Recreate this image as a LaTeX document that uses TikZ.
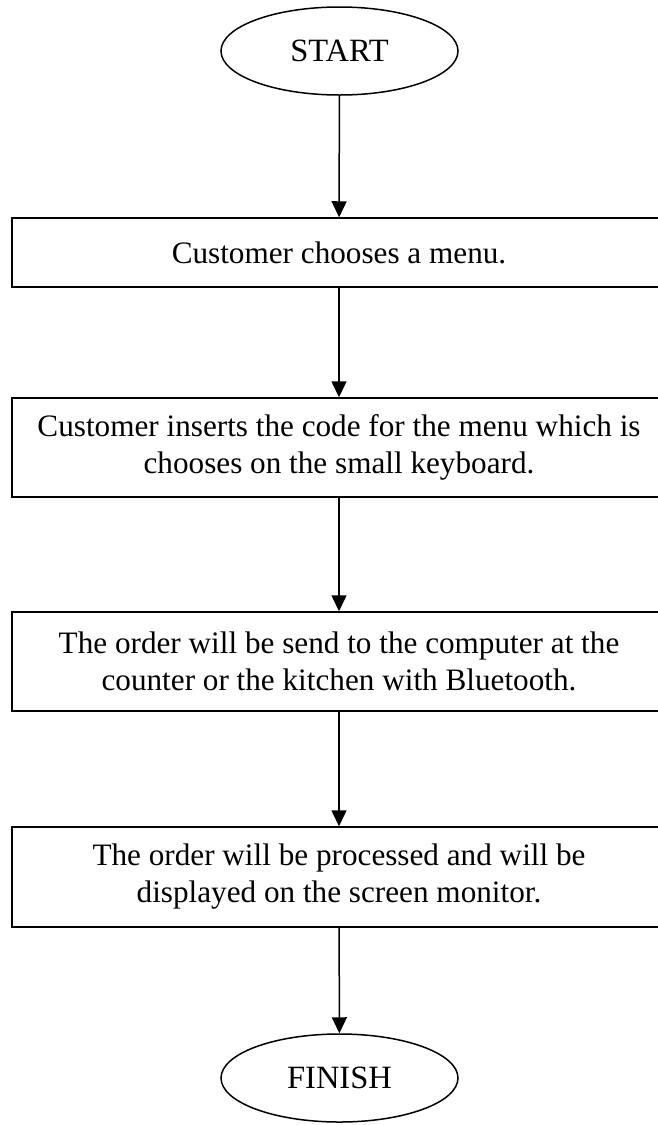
\documentclass[tikz,border=0pt]{standalone}
\usepackage{fontspec}
\setmainfont{Liberation Serif}
\usetikzlibrary{arrows.meta,shapes.geometric}
\begin{document}
\begin{tikzpicture}[x=1pt,y=-1pt,
  line width=1.5pt,
  terminal/.style={draw,ellipse,minimum width=237pt,minimum height=88pt,inner sep=0pt,
    font=\fontsize{32.5}{38}\selectfont},
  stepbox/.style={draw,rectangle,minimum width=654pt,inner sep=0pt,align=center,
    font=\fontsize{31.2}{37}\selectfont},
  flow/.style={-{Triangle[length=16pt,width=15pt]}}]
\useasboundingbox (0,0) rectangle (658,1125);
\node[terminal] (start) at (339.5,51) {START};
\node[stepbox,minimum height=69pt] (s1) at (339,252.5) {Customer chooses a menu.};
\node[stepbox,minimum height=99pt] (s2) at (339,447.5)
  {Customer inserts the code for the menu which is\\chooses on the small keyboard.};
\node[stepbox,minimum height=99pt] (s3) at (339,661.5)
  {The order will be send to the computer at the\\counter or the kitchen with Bluetooth.};
\node[stepbox,minimum height=100pt] (s4) at (339,877)
  {The order will be processed and will be\\displayed on the screen monitor.};
\node[terminal] (finish) at (339.5,1078) {FINISH};
\draw[flow] (start) -- (s1);
\draw[flow] (s1) -- (s2);
\draw[flow] (s2) -- (s3);
\draw[flow] (s3) -- (s4);
\draw[flow] (s4) -- (finish);
\end{tikzpicture}
\end{document}
